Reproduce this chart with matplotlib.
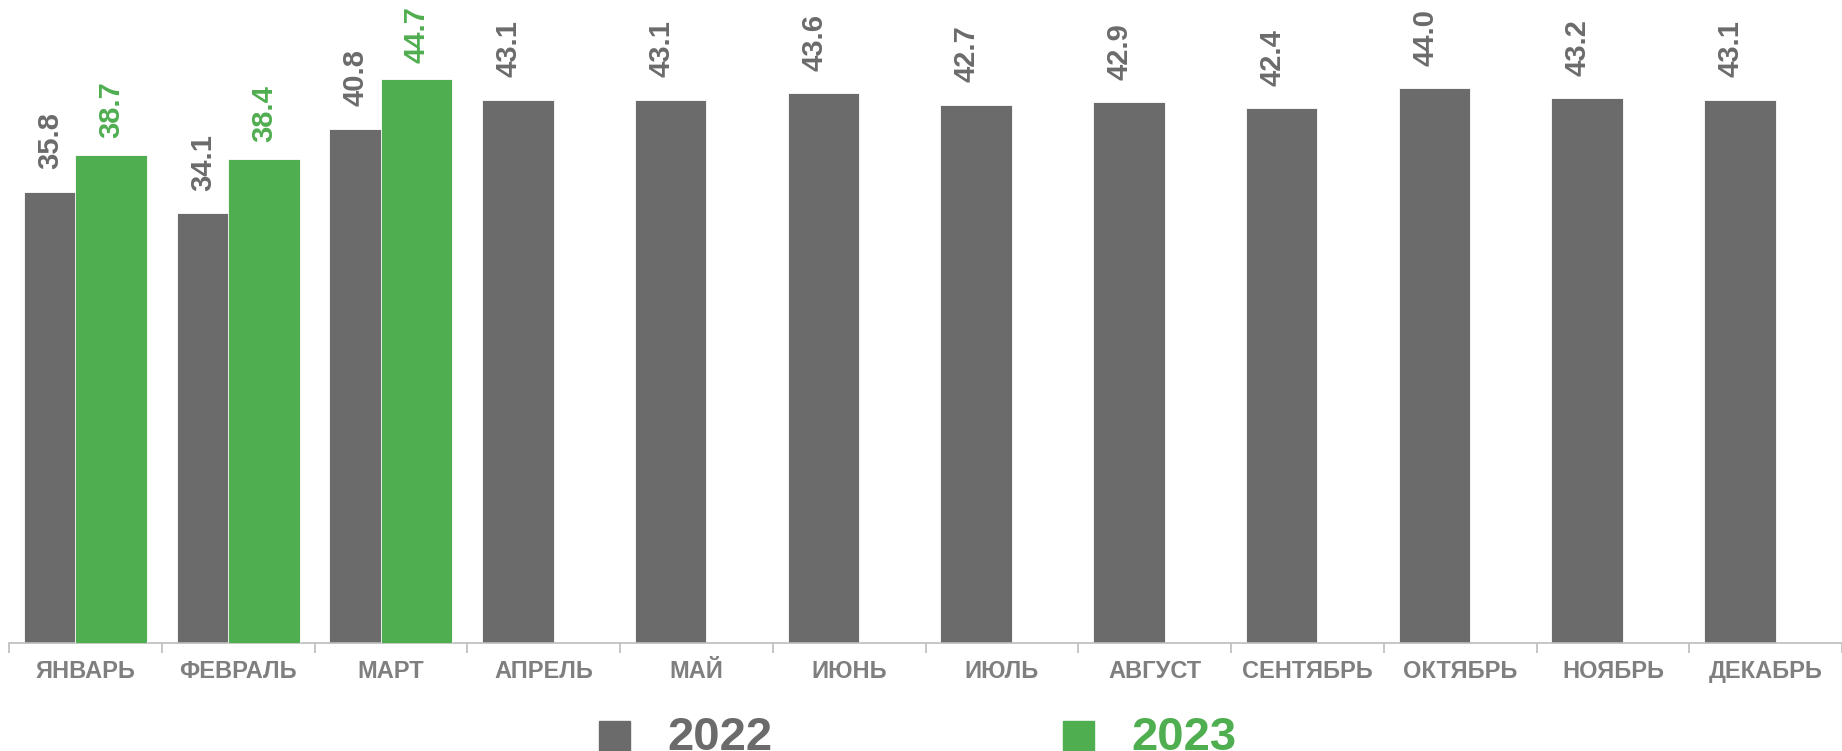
import numpy as np
import matplotlib.pyplot as plt
from matplotlib.patches import Rectangle

plt.rcParams["font.family"] = ["Liberation Sans", "DejaVu Sans"]

# ============================================================
# DATA
# ============================================================

MONTHS = ["ЯНВАРЬ", "ФЕВРАЛЬ", "МАРТ", "АПРЕЛЬ", "МАЙ", "ИЮНЬ",
          "ИЮЛЬ", "АВГУСТ", "СЕНТЯБРЬ", "ОКТЯБРЬ", "НОЯБРЬ", "ДЕКАБРЬ"]

VALUES_2022 = [35.8, 34.1, 40.8, 43.1, 43.1, 43.6, 42.7, 42.9, 42.4, 44.0, 43.2, 43.1]
VALUES_2023 = [38.7, 38.4, 44.7]

SERIES = ["2022", "2023"]

GRAY = "#6b6b6b"
GREEN = "#4fae50"
AXIS_GRAY = "#bcbcbc"
TICK_GRAY = "#7f7f7f"

W, H = 1842, 751

# ============================================================
# FIGURE
# ============================================================

fig = plt.figure(figsize=(W / 100, H / 100), dpi=100)
ax = fig.add_axes([9 / W, 1 - 643 / H, 1 - 9 / W, 643 / H])

x = np.arange(len(MONTHS))
bar_w = 0.468
offset = 0.169

bars22 = ax.bar(x - offset, VALUES_2022, bar_w, color=GRAY,
                edgecolor="white", linewidth=0.6, zorder=2)
x23 = x[:len(VALUES_2023)]
bars23 = ax.bar(x23 + offset, VALUES_2023, bar_w, color=GREEN,
                edgecolor="white", linewidth=0.6, zorder=3)

for b, v in zip(bars22, VALUES_2022):
    ax.annotate(f"{v:.1f}", (b.get_x() + b.get_width() / 2 - 0.06, v),
                xytext=(0, 16), textcoords="offset points",
                rotation=90, ha="center", va="bottom",
                fontsize=21, fontweight="bold", color=GRAY)

for b, v in zip(bars23, VALUES_2023):
    ax.annotate(f"{v:.1f}", (b.get_x() + b.get_width() / 2, v),
                xytext=(0, 12), textcoords="offset points",
                rotation=90, ha="center", va="bottom",
                fontsize=21, fontweight="bold", color=GREEN)

# ============================================================
# AXES STYLE
# ============================================================

ax.set_xlim(-0.5, 11.5 - 18 / 154.3)
ax.set_ylim(0, 643 / 12.61)

for s in ["top", "right", "left"]:
    ax.spines[s].set_visible(False)
ax.spines["bottom"].set_color(AXIS_GRAY)
ax.spines["bottom"].set_linewidth(1.2)

ax.set_yticks([])
ax.set_xticks(x)
ax.set_xticklabels(MONTHS, fontsize=17, fontweight="bold", color=TICK_GRAY)
ax.tick_params(axis="x", which="major", length=0, pad=12)
ax.set_xticks(np.arange(-0.5, len(MONTHS), 1.0), minor=True)
ax.tick_params(axis="x", which="minor", length=7, width=1.2, color=AXIS_GRAY)

# ============================================================
# LEGEND
# ============================================================

leg_items = [(SERIES[0], GRAY, 599, 667), (SERIES[1], GREEN, 1063, 1131)]
for name, col, sq_x, tx_x in leg_items:
    fig.patches.append(Rectangle((sq_x / W, -2 / H), 31 / W, 32 / H,
                                 transform=fig.transFigure, color=col))
    fig.text(tx_x / W, 1 / H, name, fontsize=34, fontweight="bold",
             color=col, ha="left", va="baseline")

fig.savefig("out.png", dpi=100)
